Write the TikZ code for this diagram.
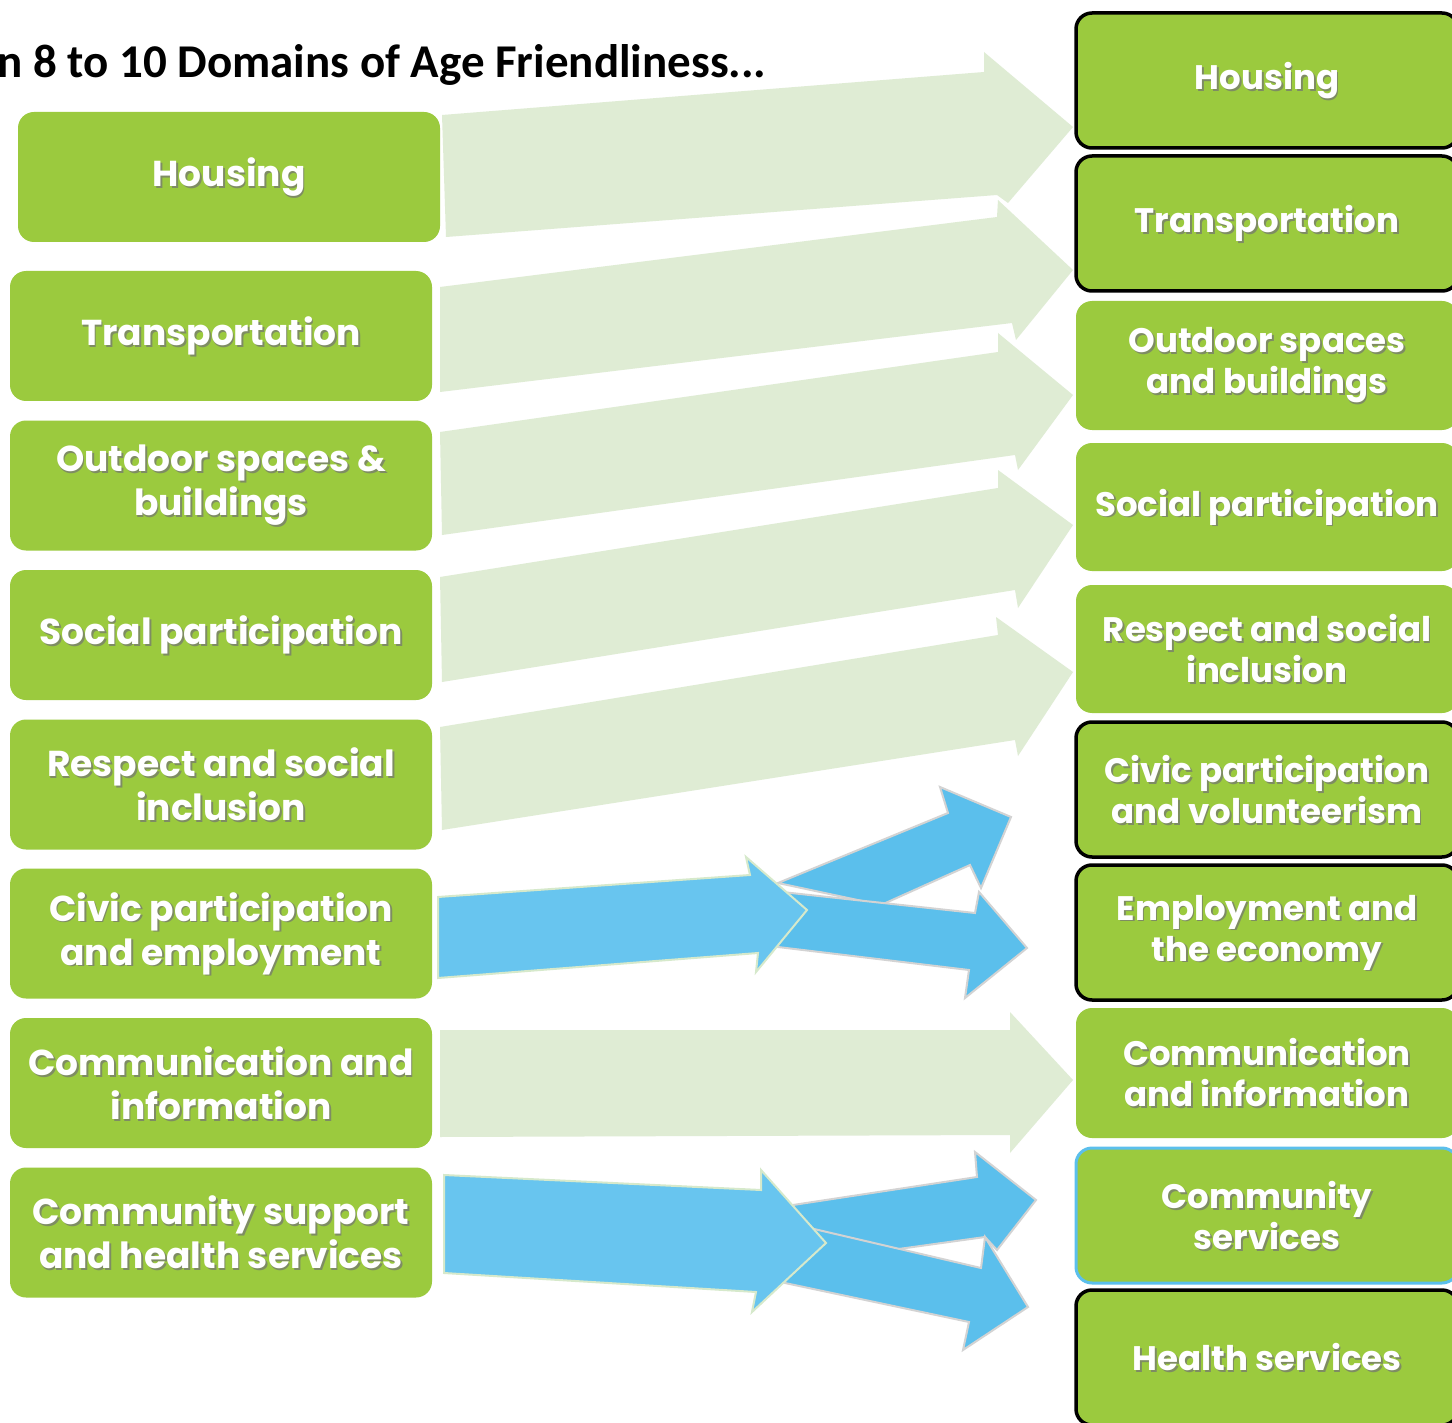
\documentclass[tikz,border=0pt]{standalone}
\usepackage{fontspec}
\setmainfont{Poppins}
\newfontfamily\titlefont{Carlito}
\usetikzlibrary{calc}
\definecolor{dgreen}{HTML}{9BCA3E}
\definecolor{lgreen}{HTML}{DFECD4}
\definecolor{blueA}{HTML}{68C5EF}
\definecolor{blueB}{HTML}{5BBFEC}
\definecolor{bgline}{HTML}{D6E9CB}
\definecolor{grayline}{HTML}{D3D3D3}
\newcommand\domain[5]{% name, box style, center, text style, text
  \node[#2] (#1) at (#3) {};
  \node[#4, text=black!55, opacity=0.7] (#1-s) at ($(#1.center)+(1.8,1.8)$) {#5};
  \node[#4] (#1-t) at (#1.center) {#5};}
\newcommand\blockarrow[8]{%
  \filldraw[#1] (#2) -- (#3) -- (#4) -- (#5) -- (#6) -- (#7) -- (#8) -- cycle;}
\begin{document}
\begin{tikzpicture}[x=1pt,y=-1pt,
  box/.style={fill=dgreen, rounded corners=16pt, inner sep=0pt, draw=none},
  lbox/.style={box, minimum width=422pt, minimum height=130pt},
  rbox/.style={box, minimum width=382pt, minimum height=#1},
  rbox/.default=130pt,
  blk/.style={draw=black, line width=3.5pt},
  blu/.style={draw=blueB, line width=3pt},
  ltxt/.style={font=\bfseries\fontsize{36}{44}\selectfont, text=white, align=center, inner sep=0pt},
  rtxt/.style={font=\bfseries\fontsize{34}{41}\selectfont, text=white, align=center, inner sep=0pt},
  lightarrow/.style={fill=lgreen, draw=none},
  mainblue/.style={fill=blueA, draw=bgline, line width=2pt, line join=miter},
  branchblue/.style={fill=blueB, draw=grayline, line width=2pt, line join=miter}
]
\useasboundingbox (0,0) rectangle (1452,1423);
\fill[white] (0,0) rectangle (1452,1423);

% title
\node[anchor=base west, inner sep=0pt, font=\titlefont\bfseries\fontsize{47}{54}\selectfont] (title) at (-3,78) {n 8 to 10 Domains of Age Friendliness...};

% light green arrows
\blockarrow{lightarrow}{442,115}{984,72}{984,52}{1073,127}{1008,203}{997,195}{446,237}
\blockarrow{lightarrow}{440,287}{997,217}{998,200}{1073,270}{1016,340}{1012,323}{440,392}
\blockarrow{lightarrow}{440,432}{998,352}{998,333}{1073,395}{1018,470}{1015,455}{442,535}
\blockarrow{lightarrow}{440,577}{998,488}{998,470}{1073,525}{1018,608}{1015,590}{442,682}
\blockarrow{lightarrow}{440,727}{998,635}{996,617}{1073,672}{1018,756}{1015,740}{442,830}
\blockarrow{lightarrow}{440,1030}{1010,1030}{1010,1012}{1073,1080}{1010,1153}{1010,1135}{440,1137}

% blue arrows: civic participation and employment
\blockarrow{branchblue}{778,883}{948,813}{940,787}{1011,817}{981,888}{970,865}{881,905}
\blockarrow{branchblue}{782,892}{975,913}{979,892}{1027,948}{965,998}{969,970}{778,947}
\blockarrow{mainblue}{438,897}{750,875}{746,857}{807,910}{756,972}{758,953}{438,978}

% blue arrows: community support and health services
\blockarrow{branchblue}{793,1205}{977,1177}{975,1152}{1036,1200}{997,1250}{985,1237}{805,1262}
\blockarrow{branchblue}{797,1225}{981,1268}{985,1237}{1028,1307}{963,1350}{969,1322}{785,1283}
\blockarrow{mainblue}{444,1175}{761,1190}{761,1170}{826,1243}{752,1312}{756,1292}{444,1273}

% left column
\domain{lhousing}{lbox}{229,177}{ltxt}{Housing}
\domain{ltransport}{lbox}{221,336}{ltxt}{Transportation}
\domain{loutdoor}{lbox}{221,485.5}{ltxt}{Outdoor spaces \&\\buildings}
\domain{lsocial}{lbox}{221,635}{ltxt}{Social participation}
\domain{lrespect}{lbox}{221,784.5}{ltxt}{Respect and social\\inclusion}
\domain{lcivic}{lbox}{221,933.5}{ltxt}{Civic participation\\and employment}
\domain{lcomm}{lbox}{221,1083}{ltxt}{Communication and\\information}
\domain{lsupport}{lbox}{221,1232.5}{ltxt}{Community support\\and health services}

% right column
\domain{rhousing}{rbox=135pt,blk}{1267,80.5}{rtxt}{Housing}
\domain{rtransport}{rbox=135pt,blk}{1267,223.5}{rtxt}{Transportation}
\domain{routdoor}{rbox=129pt}{1267,365.5}{rtxt}{Outdoor spaces\\and buildings}
\domain{rsocial}{rbox=128pt}{1267,507}{rtxt}{Social participation}
\domain{rrespect}{rbox=128pt}{1267,649}{rtxt}{Respect and social\\inclusion}
\domain{rcivic}{rbox=135pt,blk}{1267,789.5}{rtxt}{Civic participation\\and volunteerism}
\domain{remploy}{rbox=135pt,blk}{1267,932.5}{rtxt}{Employment and\\the economy}
\domain{rcomm}{rbox=130pt}{1267,1073}{rtxt}{Communication\\and information}
\domain{rcommserv}{rbox=135pt,blu}{1267,1215.5}{rtxt}{Community\\services}
\domain{rhealth}{rbox=135pt,blk}{1267,1357.5}{rtxt}{Health services}
\end{tikzpicture}
\end{document}
